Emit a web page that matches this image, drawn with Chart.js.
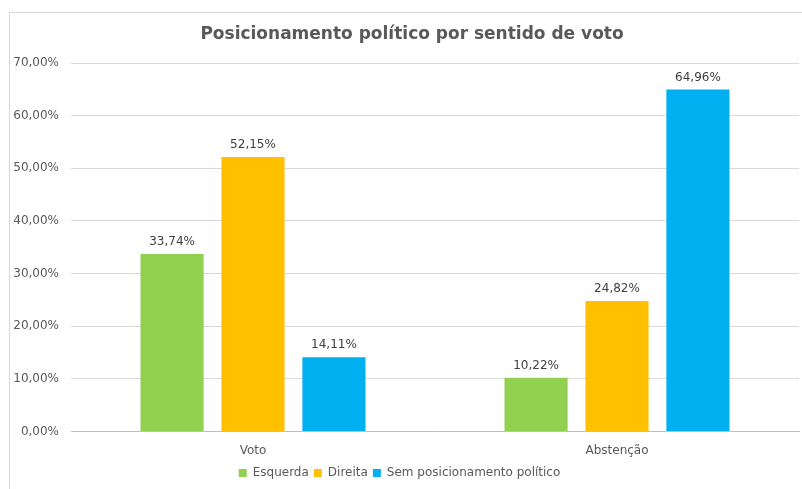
<!DOCTYPE html>
<html lang="pt">
<head>
<meta charset="utf-8">
<script src="https://cdn.jsdelivr.net/npm/chart.js@4"></script>
<style>
  html, body { margin: 0; padding: 0; background: #fff; }
  #wrap { position: relative; width: 802px; height: 489px; }
</style>
</head>
<body>
<div id="wrap"><canvas id="grafico" width="802" height="489"></canvas></div>
<script>
// Dados
const categorias = ['Voto', 'Abstenção'];
const esquerda = [33.74, 10.22];
const direita = [52.15, 24.82];
const semPosicionamento = [14.11, 64.96];
const ticksY = [0, 10, 20, 30, 40, 50, 60, 70];
const titulo = 'Posicionamento político por sentido de voto';

const fonte = "'DejaVu Sans', sans-serif";
const fmt = v => v.toFixed(2).replace('.', ',') + '%';

// moldura cinzenta e título
const moldura = {
    id: 'moldura',
    beforeDraw(chart) {
        const ctx = chart.ctx;
        ctx.save();
        ctx.fillStyle = '#fff';
        ctx.fillRect(0, 0, chart.width, chart.height);
        ctx.strokeStyle = '#d9d9d9';
        ctx.lineWidth = 1;
        ctx.strokeRect(9.5, 12.5, 900, 600);
        ctx.font = 'bold 17px ' + fonte;
        ctx.fillStyle = '#595959';
        ctx.textAlign = 'center';
        ctx.textBaseline = 'middle';
        ctx.fillText(titulo, 412, 35);
        ctx.restore();
    }
};

// rótulos de valor por cima das barras
const rotulos = {
    id: 'rotulos',
    afterDatasetsDraw(chart) {
        const ctx = chart.ctx;
        ctx.save();
        ctx.font = '12px ' + fonte;
        ctx.fillStyle = '#404040';
        ctx.textAlign = 'center';
        ctx.textBaseline = 'middle';
        chart.data.datasets.forEach((ds, i) => {
            chart.getDatasetMeta(i).data.forEach((bar, j) => {
                ctx.fillText(fmt(ds.data[j]), bar.x, bar.y - 12);
            });
        });
        ctx.restore();
    }
};

new Chart(document.getElementById('grafico'), {
    type: 'bar',
    data: {
        labels: categorias,
        datasets: [
            { label: 'Esquerda', data: esquerda, backgroundColor: '#92d050' },
            { label: 'Direita', data: direita, backgroundColor: '#ffc000' },
            { label: 'Sem posicionamento político', data: semPosicionamento, backgroundColor: '#00b0f0' }
        ]
    },
    options: {
        responsive: false,
        animation: false,
        devicePixelRatio: 1,
        categoryPercentage: 0.667,
        barPercentage: 0.78,
        layout: { padding: { left: 0, right: 3, top: 63, bottom: 0 } },
        plugins: {
            title: { display: false },
            legend: {
                position: 'bottom',
                labels: {
                    color: '#595959',
                    font: { family: fonte, size: 12 },
                    boxWidth: 8,
                    boxHeight: 8,
                    padding: 5
                }
            },
            tooltip: { enabled: false }
        },
        scales: {
            x: {
                grid: { display: false },
                border: { color: '#bfbfbf', width: 1 },
                ticks: { color: '#595959', font: { family: fonte, size: 12 }, padding: 4 }
            },
            y: {
                min: 0,
                max: 70,
                afterFit: s => { s.width = 71; },
                afterBuildTicks: s => { s.ticks = ticksY.map(v => ({ value: v })); },
                grid: { color: '#d9d9d9', drawTicks: false },
                border: { display: false },
                ticks: {
                    color: '#595959',
                    font: { family: fonte, size: 12 },
                    padding: 12,
                    callback: v => fmt(v)
                }
            }
        }
    },
    plugins: [moldura, rotulos]
});
</script>
</body>
</html>
